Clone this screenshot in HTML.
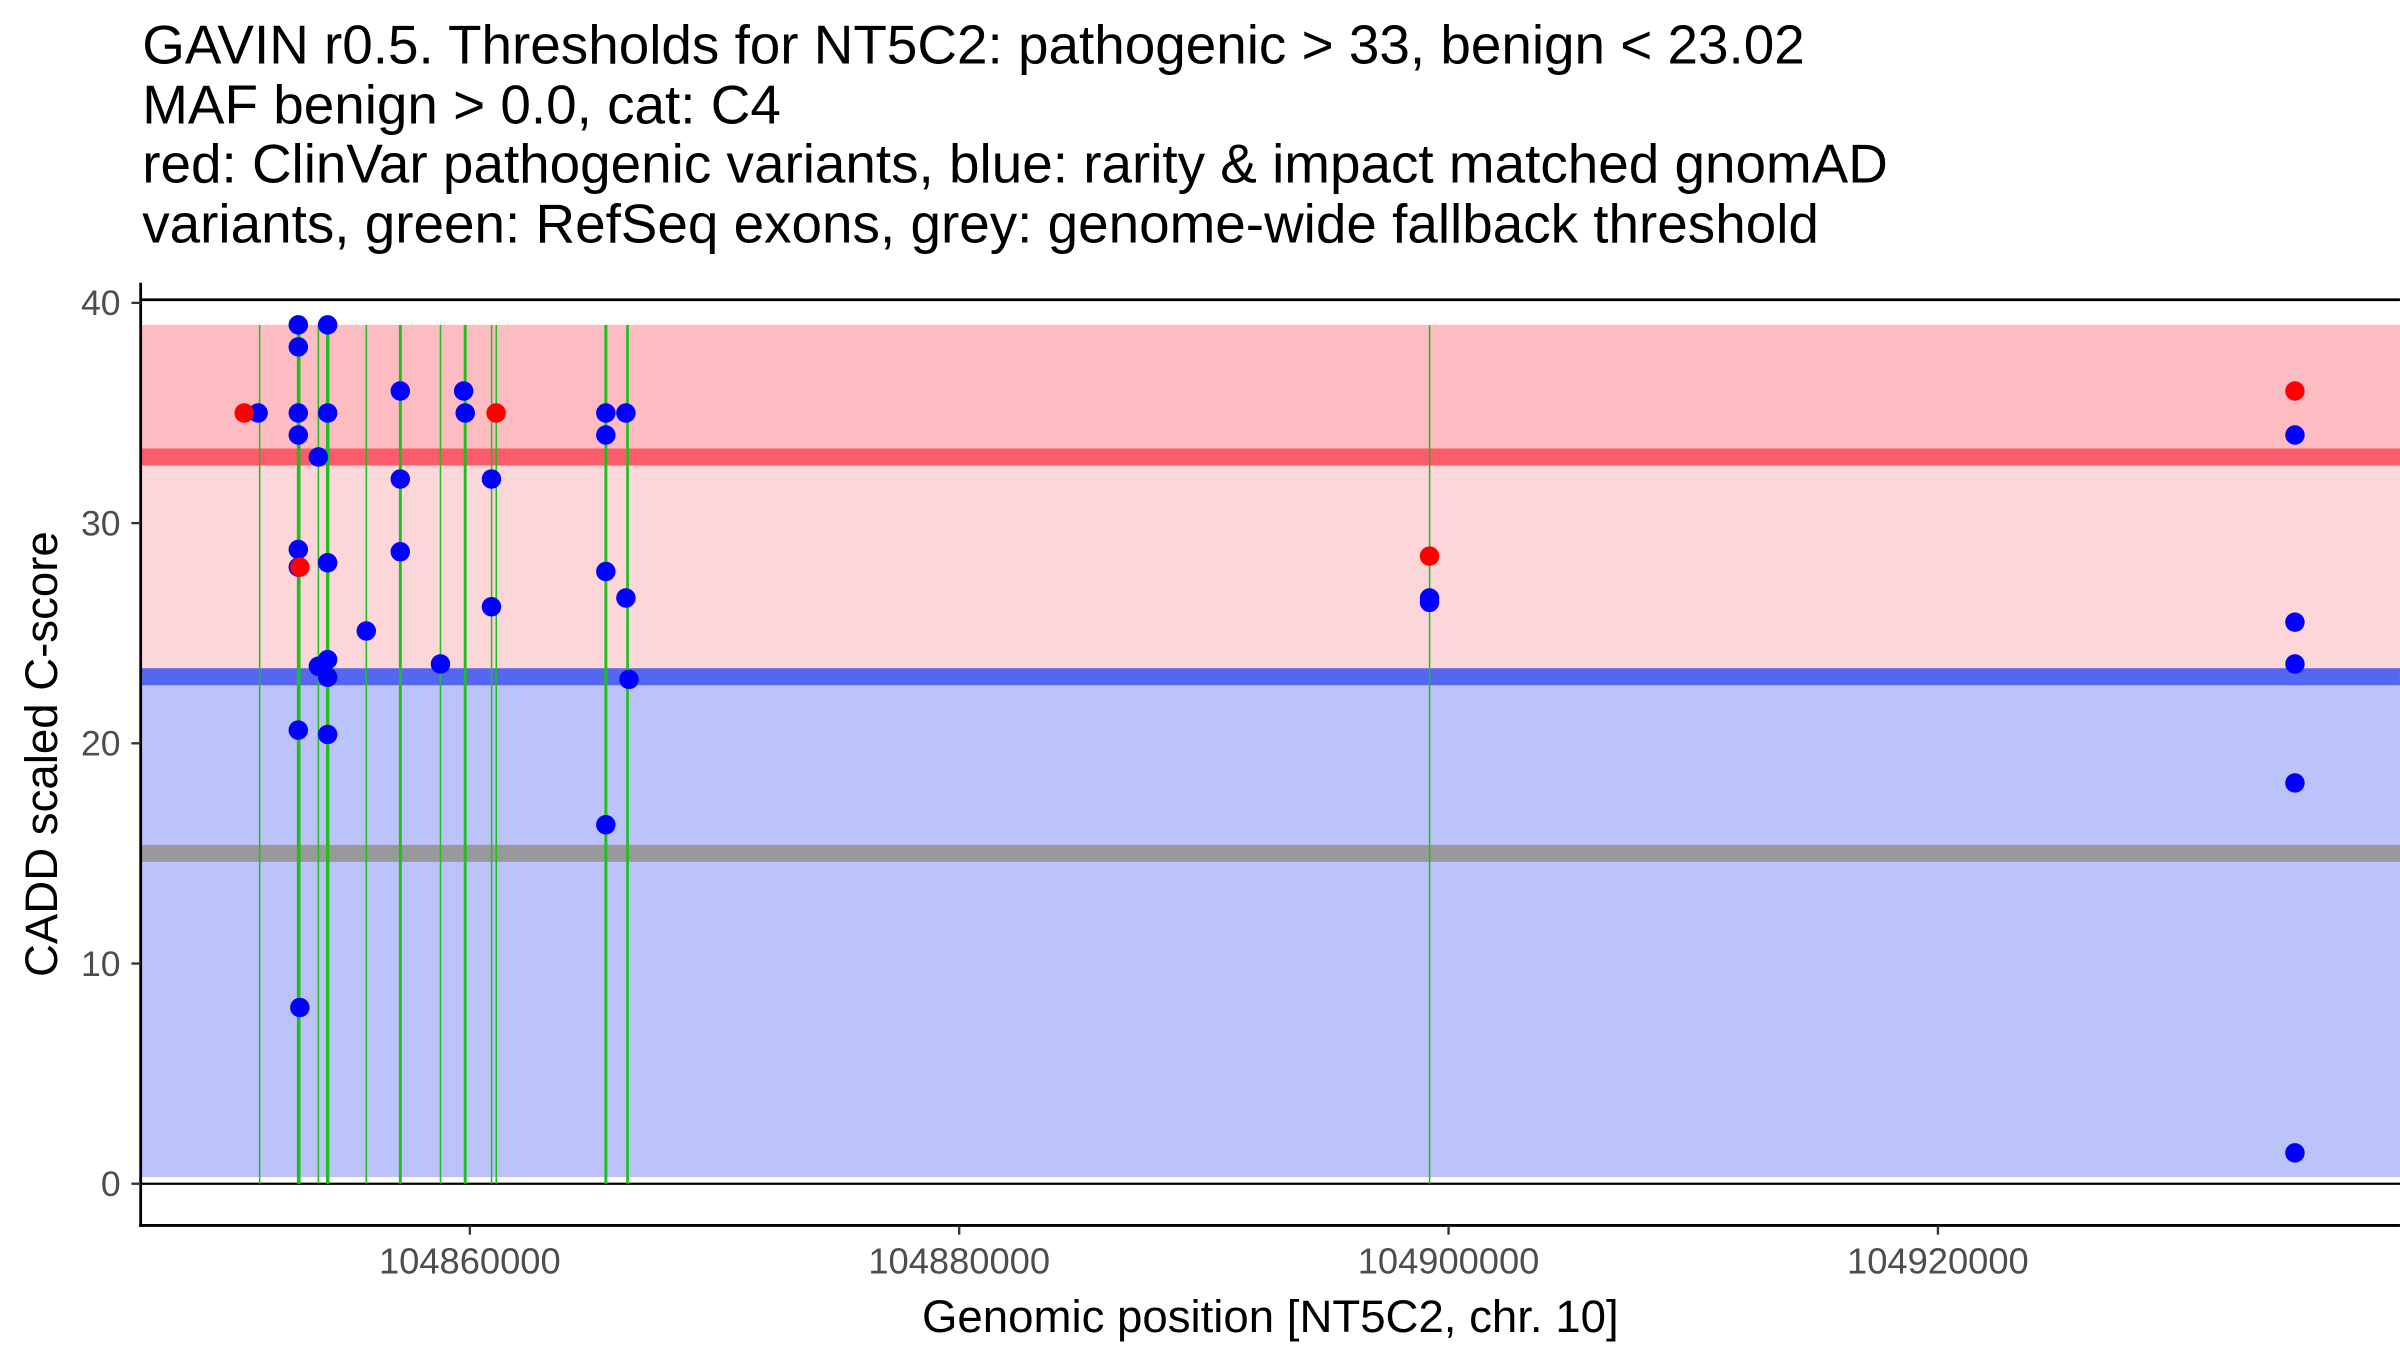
<!DOCTYPE html>
<html><head><meta charset="utf-8"><style>html,body{margin:0;padding:0;background:#fff}svg{display:block}</style></head>
<body>
<svg id="chart" width="2400" height="1350" viewBox="0 0 1553 873.6" xmlns="http://www.w3.org/2000/svg" font-family="'Liberation Sans', Arial, sans-serif">
<g font-size="35.5" fill="#000">
<text x="92" y="41">GAVIN r0.5. Thresholds for NT5C2: pathogenic &gt; 33, benign &lt; 23.02</text>
<text x="92" y="80">MAF benign &gt; 0.0, cat: C4</text>
<text x="92" y="118">red: ClinVar pathogenic variants, blue: rarity &amp; impact matched gnomAD</text>
<text x="92" y="157">variants, green: RefSeq exons, grey: genome-wide fallback threshold</text>
</g>
<g id="bands"></g><g id="hlines"></g><g id="exons"></g><g id="points"></g><g id="axes"></g>
</svg>
<script>
const yTicks = [0, 10, 20, 30, 40];
const xTicks = [104860000, 104880000, 104900000, 104920000];
const xTickLabels = ["104860000", "104880000", "104900000", "104920000"];
const pathogenicThreshold = 33;
const benignThreshold = 23.02;
const fallbackThreshold = 15;
const bandTop = 39;
const exonStart = [104851400, 104852930, 104853800, 104854120, 104855760, 104857100, 104858790, 104859750, 104860880, 104861070, 104865500, 104866390, 104899215];
const exonEnd   = [104851420, 104853080, 104853820, 104854260, 104855780, 104857220, 104858810, 104859870, 104860900, 104861090, 104865620, 104866500, 104899235];
const pathoPos = [104850779, 104853053, 104861074, 104899223, 104934592];
const pathoScore = [35, 28, 35, 28.5, 36];
const benignPos = [104851347,
 104852989,104852989,104852989,104852989,104852989,104852989,104853053,104852989,
 104853810,104853810,
 104854189,104854189,104854189,104854189,104854189,104854189,
 104855768,
 104857158,104857158,104857158,
 104858800,
 104859747,104859811,
 104860884,104860884,
 104865558,104865558,104865558,104865558,
 104866379,104866379,104866505,
 104899223,104899223,
 104934592,104934592,104934592,104934592,104934592];
const benignScore = [35,
 39,38,35,34,28.8,20.6,8,28,
 33,23.5,
 39,35,28.2,23.8,23,20.4,
 25.1,
 36,32,28.7,
 23.6,
 36,35,
 32,26.2,
 35,34,27.8,16.3,
 35,26.6,22.9,
 26.6,26.4,
 34,25.5,23.6,18.2,1.4];

const NS = "http://www.w3.org/2000/svg";
const X0 = 91, X1 = 1553, YB = 793;
function xs(v){ return 304 + (v - 104860000) * 316.67 / 20000; }
function ys(v){ return 766 - v * 14.25; }
function mk(tag, attrs, parent){ const e=document.createElementNS(NS,tag); for(const k in attrs) e.setAttribute(k,attrs[k]); parent.appendChild(e); return e; }
const bands=document.getElementById('bands'), hl=document.getElementById('hlines'), ex=document.getElementById('exons'), pts=document.getElementById('points'), ax=document.getElementById('axes');

let r=mk('rect',{x:X0,y:ys(bandTop),width:X1-X0,height:ys(pathogenicThreshold)-ys(bandTop),fill:'#fdbcc2'},bands);


r=mk('rect',{x:X0,y:ys(pathogenicThreshold),width:X1-X0,height:ys(benignThreshold)-ys(pathogenicThreshold),fill:'#fdd6da'},bands);


r=mk('rect',{x:X0,y:ys(benignThreshold),width:X1-X0,height:ys(0.3)-ys(benignThreshold),fill:'#bcc2fa'},bands);



let l=mk('line',{x1:X0,x2:X1,y1:ys(pathogenicThreshold),y2:ys(pathogenicThreshold),stroke:'#fd5a6a','stroke-width':11},hl);


l=mk('line',{x1:X0,x2:X1,y1:ys(benignThreshold),y2:ys(benignThreshold),stroke:'#5566f0','stroke-width':11},hl);


l=mk('line',{x1:X0,x2:X1,y1:ys(fallbackThreshold),y2:ys(fallbackThreshold),stroke:'#999999','stroke-width':11},hl);


l=mk('line',{x1:X0,x2:X1,y1:ys(0),y2:ys(0),stroke:'#000','stroke-width':1.5},hl);


l=mk('line',{x1:X0,x2:X1,y1:194,y2:194,stroke:'#000','stroke-width':1.8},hl);



for(let i=0;i<exonStart.length;i++){
  const a=xs(exonStart[i]), b=xs(exonEnd[i]);
  const w=Math.max(1, b-a);
  const e=mk('rect',{x:(a+b)/2-w/2,y:ys(bandTop),width:w,height:ys(0)-ys(bandTop),fill:'#1ec01e'},ex);
  
  
}
for(let i=0;i<benignPos.length;i++){
  const c=mk('circle',{cx:xs(benignPos[i]),cy:ys(benignScore[i]),r:6.3,fill:'#0000ff'},pts);
  
  
}
for(let i=0;i<pathoPos.length;i++){
  const c=mk('circle',{cx:xs(pathoPos[i]),cy:ys(pathoScore[i]),r:6.3,fill:'#ff0000'},pts);
  
  
}
l=mk('line',{x1:X0,x2:X0,y1:183,y2:YB+1,stroke:'#000','stroke-width':1.8},ax);


l=mk('line',{x1:X0-1,x2:X1,y1:YB,y2:YB,stroke:'#000','stroke-width':1.8},ax);


yTicks.forEach(v=>{
  const t=mk('line',{x1:X0-6,x2:X0,y1:ys(v),y2:ys(v),stroke:'#333','stroke-width':1.5},ax);
  
  
  const tx=mk('text',{x:X0-13,y:ys(v)+8,'text-anchor':'end','font-size':23,fill:'#4d4d4d'},ax);
  tx.textContent=String(v);
  
  
});
xTicks.forEach((v,i)=>{
  const t=mk('line',{x1:xs(v),x2:xs(v),y1:YB,y2:YB+6,stroke:'#333','stroke-width':1.5},ax);
  
  
  const tx=mk('text',{x:xs(v),y:YB+31,'text-anchor':'middle','font-size':23.5,fill:'#4d4d4d'},ax);
  tx.textContent=xTickLabels[i];
  
  
});
let t=mk('text',{x:822,y:862,'text-anchor':'middle','font-size':29.5,fill:'#000'},ax);
t.textContent='Genomic position [NT5C2, chr. 10]';


t=mk('text',{x:0,y:0,'text-anchor':'middle','font-size':29.5,fill:'#000',transform:'translate(37,488) rotate(-90)'},ax);
t.textContent='CADD scaled C-score';


</script>
</body></html>
